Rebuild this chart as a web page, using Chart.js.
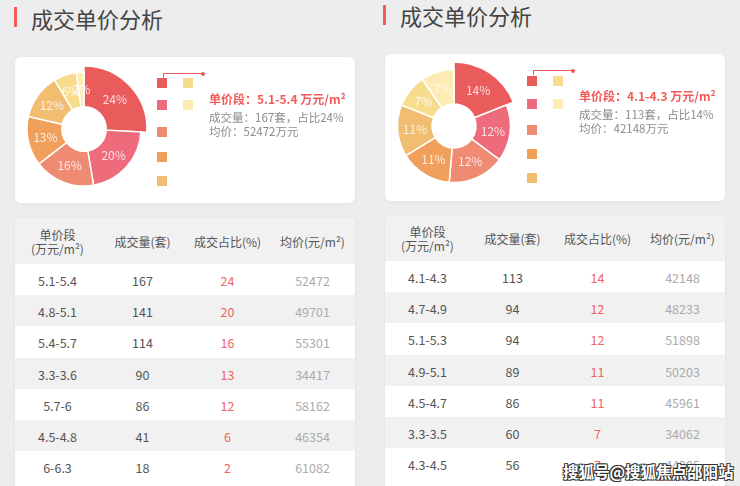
<!DOCTYPE html>
<html>
<head>
<meta charset="utf-8">
<script src="https://cdn.jsdelivr.net/npm/chart.js@4.4.1/dist/chart.umd.min.js"></script>
<style>
    html, body { margin: 0; padding: 0; }
    body {
        width: 740px; height: 486px; overflow: hidden; position: relative;
        background: #ededed;
        font-family: "Noto Sans CJK SC", "Noto Sans", sans-serif;
    }
    .abs { position: absolute; }
    .title-bar { width: 3px; height: 20px; background: #f25c5c; }
    .title { font-size: 22px; color: #444; line-height: 22px; white-space: nowrap; }
    .card { background: #fff; border-radius: 6px; box-shadow: 0 1px 4px rgba(0,0,0,0.05); }
    .legend-box { width: 10px; height: 10px; }
    .bracket { height: 4px; border-top: 1px solid #f25c5c; border-left: 1px solid #f25c5c; }
    .bracket::after {
        content: ''; position: absolute; right: -2px; top: -2.5px;
        width: 4px; height: 4px; border-radius: 50%; background: #f25c5c;
    }
    .info-main { font-size: 12px; font-weight: bold; color: #f25a5a; white-space: nowrap; line-height: 14px; }
    .info-sub { font-size: 11.5px; color: #8c8c8c; white-space: nowrap; line-height: 12px; }
    .table-card { background: #fff; border-radius: 6px 6px 0 0; box-shadow: 0 1px 4px rgba(0,0,0,0.05); overflow: hidden; }
    table { border-collapse: collapse; width: 100%; table-layout: fixed; }
    th { background: #f1f1f1; font-weight: normal; font-size: 12px; color: #555; line-height: 15px; padding: 0; }
    th .l2 { display: block; font-size: 12px; line-height: 14px; }
    td { text-align: center; font-size: 12.5px; padding: 0; padding-top: 2px; }
    tr.odd td { background: #fff; }
    tr.even td { background: #f1f1f1; }
    td.c1, td.c2 { color: #555; }
    td.c3 { color: #f06464; }
    td.c4 { color: #ababab; }
    .watermark {
        font-size: 15.5px; font-weight: bold; color: #fff; white-space: nowrap;
        text-shadow: -1px -1px 0 #333, 1px -1px 0 #333, -1px 1px 0 #333, 1px 1px 0 #333;
    }
</style>
</head>
<body>

<div class="abs title-bar" style="left:14px; top:7px;"></div>
<div class="abs title" style="left:31px; top:7px;">成交单价分析</div>
<div class="abs title-bar" style="left:383px; top:5px;"></div>
<div class="abs title" style="left:400px; top:4px;">成交单价分析</div>

<div class="abs card" style="left:15px; top:57px; width:340px; height:146px;"></div>
<div class="abs card" style="left:385px; top:54px; width:340px; height:147px;"></div>

<canvas id="leftPie" class="abs" width="140" height="140" style="left:14px; top:59px;"></canvas>
<canvas id="rightPie" class="abs" width="140" height="140" style="left:384px; top:56px;"></canvas>

<div id="leftLegend"></div>
<div id="rightLegend"></div>

<div class="abs bracket" style="left:163px; top:73px; width:39px;"></div>
<div class="abs bracket" style="left:533px; top:70px; width:39px;"></div>

<div id="leftInfo"></div>
<div id="rightInfo"></div>

<div class="abs table-card" style="left:15px; top:218px; width:340px; height:280px;">
    <table id="leftTable"></table>
</div>
<div class="abs table-card" style="left:385px; top:216px; width:340px; height:280px;">
    <table id="rightTable"></table>
</div>

<div class="abs watermark" style="left:563px; top:460px;">搜狐号@搜狐焦点邵阳站</div>

<script>
// Data
const leftRanges = ['5.1-5.4', '4.8-5.1', '5.4-5.7', '3.3-3.6', '5.7-6', '4.5-4.8', '6-6.3'];
const leftCounts = [167, 141, 114, 90, 86, 41, 18];
const leftShares = [24, 20, 16, 13, 12, 6, 2];
const leftAvgPrices = [52472, 49701, 55301, 34417, 58162, 46354, 61082];

const rightRanges = ['4.1-4.3', '4.7-4.9', '5.1-5.3', '4.9-5.1', '4.5-4.7', '3.3-3.5', '4.3-4.5'];
const rightCounts = [113, 94, 94, 89, 86, 60, 56];
const rightShares = [14, 12, 12, 11, 11, 7, 7];
const rightAvgPrices = [42148, 48233, 51898, 50203, 45961, 34062, 44205];

const sliceColors = ['#ea5b5c', '#ee6b7b', '#f08b73', '#f0a05b', '#f0bd71', '#f8dc8d', '#fcebb3'];
const tableHeaders = ['单价段<span class="l2">(万元/m²)</span>', '成交量(套)', '成交占比(%)', '均价(元/m²)'];

// Highlighted (first) slice gets a bigger outer radius
const enlargeFirst = {
    id: 'enlargeFirst',
    afterDatasetUpdate(chart) {
        const arc = chart.getDatasetMeta(0).data[0];
        if (arc) arc.outerRadius += chart.options.plugins.enlargeFirst.extra;
    }
};

// Percent text inside each slice
const sliceLabels = {
    id: 'sliceLabels',
    afterDatasetsDraw(chart) {
        const ctx = chart.ctx;
        const texts = chart.options.plugins.sliceLabels.texts;
        ctx.save();
        ctx.fillStyle = 'rgba(255,255,255,0.8)';
        ctx.font = '12px "Noto Sans CJK SC", sans-serif';
        ctx.textAlign = 'center';
        ctx.textBaseline = 'middle';
        chart.getDatasetMeta(0).data.forEach((arc, i) => {
            const p = arc.tooltipPosition();
            ctx.fillText(texts[i] + '%', p.x, p.y);
        });
        ctx.restore();
    }
};

function makePie(id, ranges, shares, radius, extra) {
    return new Chart(document.getElementById(id), {
        type: 'doughnut',
        data: {
            labels: ranges,
            datasets: [{
                data: shares,
                backgroundColor: sliceColors,
                borderColor: '#fff',
                borderWidth: 1.5
            }]
        },
        options: {
            responsive: false,
            animation: false,
            events: [],
            radius: radius,
            cutout: '39%',
            plugins: {
                legend: { display: false },
                tooltip: { enabled: false },
                enlargeFirst: { extra: extra },
                sliceLabels: { texts: shares }
            }
        },
        plugins: [enlargeFirst, sliceLabels]
    });
}

// Legend boxes: 5 in first column, rest in second
function buildLegend(containerId, left, tops) {
    const box = document.getElementById(containerId);
    sliceColors.forEach((color, i) => {
        const d = document.createElement('div');
        d.className = 'abs legend-box';
        d.style.background = color;
        d.style.left = (i < 5 ? left : left + 26) + 'px';
        d.style.top = tops[i % 5] + 'px';
        box.appendChild(d);
    });
}

function buildInfo(containerId, left, top, range, count, share, avg) {
    document.getElementById(containerId).innerHTML = `
        <div class="abs info-main" style="left:${left}px; top:${top}px;">单价段：${range} 万元/m²</div>
        <div class="abs info-sub" style="left:${left}px; top:${top + 19}px;">成交量：${count}套，占比${share}%</div>
        <div class="abs info-sub" style="left:${left}px; top:${top + 32.5}px;">均价：${avg}万元</div>
    `;
}

function buildTable(tableId, headerH, rowH, ranges, counts, shares, avgs) {
    const head = `<tr style="height:${headerH}px;">${tableHeaders.map(h => `<th>${h}</th>`).join('')}</tr>`;
    const rows = ranges.map((r, i) => `
        <tr class="${i % 2 === 0 ? 'odd' : 'even'}" style="height:${rowH}px;">
            <td class="c1">${r}</td>
            <td class="c2">${counts[i]}</td>
            <td class="c3">${shares[i]}</td>
            <td class="c4">${avgs[i]}</td>
        </tr>`).join('');
    document.getElementById(tableId).innerHTML = head + rows;
}

makePie('leftPie', leftRanges, leftShares, 57, 6);
makePie('rightPie', rightRanges, rightShares, 56.5, 7.5);

buildLegend('leftLegend', 157, [78, 100, 127, 152, 176]);
buildLegend('rightLegend', 527, [76, 99, 125, 149, 173]);

buildInfo('leftInfo', 209, 92, leftRanges[0], leftCounts[0], leftShares[0], leftAvgPrices[0]);
buildInfo('rightInfo', 579, 89, rightRanges[0], rightCounts[0], rightShares[0], rightAvgPrices[0]);

buildTable('leftTable', 46, 31.2, leftRanges, leftCounts, leftShares, leftAvgPrices);
buildTable('rightTable', 45, 31.2, rightRanges, rightCounts, rightShares, rightAvgPrices);
</script>
</body>
</html>
